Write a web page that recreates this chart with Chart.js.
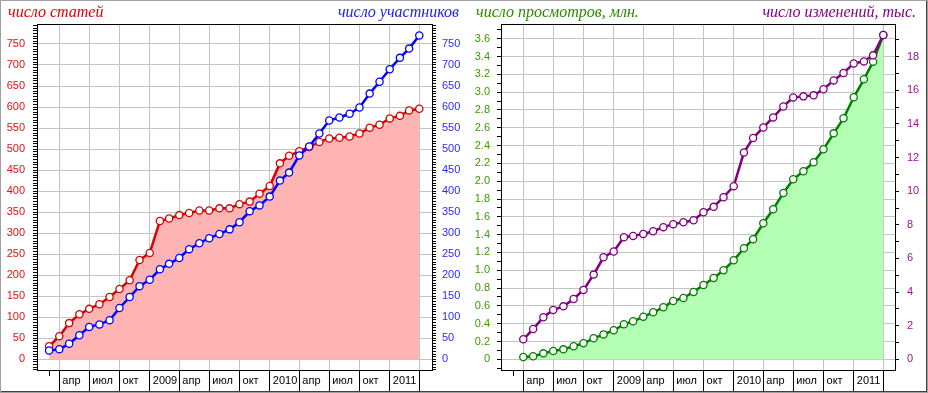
<!DOCTYPE html>
<html>
<head>
<meta charset="utf-8">
<script src="https://cdn.jsdelivr.net/npm/chart.js@4.4.1/dist/chart.umd.min.js"></script>
<style>
    html, body { margin: 0; padding: 0; background: #fff; }
    #wrap { position: relative; width: 928px; height: 393px; overflow: hidden; }
    #wrap canvas { position: absolute; top: 0; }
    #left { left: 0; }
    #right { left: 464px; }
    #frame { position: absolute; left: 0; top: 0; width: 928px; height: 393px; box-sizing: border-box;
             border: 1px solid #a0a0a0; box-shadow: inset -1px -1px 0 #404040; pointer-events: none; }
</style>
</head>
<body>
<div id="wrap">
    <canvas id="left" width="464" height="393"></canvas>
    <canvas id="right" width="464" height="393"></canvas>
    <div id="frame"></div>
</div>
<script>
// monthly values, first day of each month
const months = [
    '2008-03', '2008-04', '2008-05', '2008-06', '2008-07', '2008-08', '2008-09', '2008-10', '2008-11', '2008-12',
    '2009-01', '2009-02', '2009-03', '2009-04', '2009-05', '2009-06', '2009-07', '2009-08', '2009-09', '2009-10', '2009-11', '2009-12',
    '2010-01', '2010-02', '2010-03', '2010-04', '2010-05', '2010-06', '2010-07', '2010-08', '2010-09', '2010-10', '2010-11', '2010-12',
    '2011-01', '2011-02', '2011-03', '2011-04'
];
// число статей (from 2008-03)
const articles = [31, 55, 86, 107, 120, 131, 148, 167, 188, 236,
    253, 329, 335, 343, 348, 354, 354, 359, 359, 369, 375, 394,
    412, 466, 484, 495, 505, 517, 525, 527, 530, 537, 551, 558,
    573, 579, 592, 596];
// число участников (from 2008-03)
const participants = [21, 24, 37, 57, 77, 83, 93, 122, 148, 174,
    189, 214, 227, 241, 262, 276, 288, 298, 309, 326, 352, 366,
    387, 425, 444, 485, 506, 537, 568, 575, 584, 599, 632, 660,
    690, 717, 739, 770];
// right chart starts one month later (2008-04)
const rightMonths = months.slice(1);
// число просмотров, млн.
const views = [0.026, 0.034, 0.067, 0.094, 0.112, 0.146, 0.18, 0.236, 0.28,
    0.326, 0.393, 0.427, 0.479, 0.528, 0.584, 0.655, 0.689, 0.757, 0.835, 0.914, 1.0,
    1.112, 1.247, 1.348, 1.528, 1.685, 1.868, 2.021, 2.111, 2.212, 2.358, 2.537, 2.706,
    2.942, 3.144, 3.342, 3.642];
// число изменений, тыс.
const edits = [1.19, 1.8, 2.5, 2.94, 3.15, 3.59, 4.13, 5.04, 6.07,
    6.41, 7.26, 7.34, 7.46, 7.62, 7.86, 8.04, 8.15, 8.27, 8.75, 9.07, 9.64,
    10.3, 12.3, 13.16, 13.79, 14.39, 15.04, 15.58, 15.64, 15.7, 16.06, 16.59, 17.03,
    17.6, 17.72, 18.08, 19.29];

// x axis: quarter boundaries with labels, short ticks before the first one
const tickMonths = ['2008-04', '2008-07', '2008-10', '2009-01', '2009-04', '2009-07', '2009-10',
    '2010-01', '2010-04', '2010-07', '2010-10', '2011-01', '2011-04'];
const tickLabels = ['апр', 'июл', 'окт', '2009', 'апр', 'июл', 'окт', '2010', 'апр', 'июл', 'окт', '2011', ''];
const minorTickMonths = ['2008-02', '2008-03'];

const tickFont = { family: '"Liberation Sans", Arial, sans-serif', size: 11 };

// days since 2008-01-01
function dayOf(m) {
    const [y, mo] = m.split('-').map(Number);
    return (Date.UTC(y, mo - 1, 1) - Date.UTC(2008, 0, 1)) / 86400000;
}

function points(ms, values) {
    return ms.map((m, i) => ({ x: dayOf(m), y: values[i] }));
}

function isMajor(v, major) {
    const r = v / major;
    return Math.abs(r - Math.round(r)) < 1e-6;
}

function xAxis(min, max) {
    return {
        type: 'linear', position: 'bottom', min: min, max: max,
        afterBuildTicks: s => { s.ticks = tickMonths.map(m => ({ value: dayOf(m) })); },
        afterFit: s => { s.height = 23; },
        grid: { color: '#c4c4c4', tickColor: '#000', tickLength: 21 },
        border: { color: '#000' },
        ticks: {
            autoSkip: false, maxRotation: 0, minRotation: 0, align: 'start', padding: -17,
            color: '#000', font: tickFont,
            callback: (v, i) => ' ' + tickLabels[i]
        }
    };
}

function yAxis(position, min, max, step, major, color, fmt, width, padding, grid) {
    return {
        type: 'linear', position: position, min: min, max: max,
        afterFit: s => { s.width = width; },
        grid: {
            drawOnChartArea: grid,
            color: ctx => isMajor(ctx.tick.value, major) ? '#c4c4c4' : 'rgba(0,0,0,0)',
            tickColor: '#000', tickLength: 4
        },
        border: { color: '#000' },
        ticks: {
            stepSize: step, includeBounds: false, autoSkip: false, padding: padding,
            color: color, font: tickFont,
            callback: v => isMajor(v, major) ? fmt(v) : ''
        }
    };
}

// frame around the plot, minor month ticks and the two axis captions
const decoPlugin = {
    id: 'deco',
    afterDraw(chart, args, opts) {
        const ctx = chart.ctx;
        const a = chart.chartArea;
        const xs = chart.scales.x;
        ctx.save();
        ctx.strokeStyle = '#000';
        ctx.lineWidth = 1;
        ctx.strokeRect(Math.round(a.left) + 0.5, Math.round(a.top) + 0.5,
            Math.round(a.right - a.left), Math.round(a.bottom - a.top));
        minorTickMonths.forEach(m => {
            const px = xs.getPixelForValue(dayOf(m));
            if (px > a.left + 3) {
                ctx.beginPath();
                ctx.moveTo(Math.round(px) + 0.5, a.bottom);
                ctx.lineTo(Math.round(px) + 0.5, a.bottom + 6);
                ctx.stroke();
            }
        });
        ctx.font = 'italic 16px "Liberation Serif", "Times New Roman", serif';
        ctx.textBaseline = 'alphabetic';
        ctx.textAlign = 'left';
        ctx.fillStyle = opts.leftColor;
        ctx.fillText(opts.leftText, opts.leftX, 17);
        ctx.textAlign = 'right';
        ctx.fillStyle = opts.rightColor;
        ctx.fillText(opts.rightText, opts.rightX, 17);
        ctx.restore();
    }
};

function lineSet(data, color, fillColor) {
    return {
        data: data,
        borderColor: color,
        borderWidth: 2.5,
        backgroundColor: fillColor || 'rgba(0,0,0,0)',
        fill: fillColor ? 'origin' : false,
        tension: 0,
        pointRadius: 3.6,
        pointBorderWidth: 1.3,
        pointBackgroundColor: '#fff',
        pointBorderColor: color
    };
}

const commonOptions = {
    responsive: false,
    animation: false,
    layout: { padding: { top: 24, left: 0, right: 0, bottom: 0 } },
    plugins: { legend: { display: false }, tooltip: { enabled: false } }
};

const red = '#e81010', blue = '#2a2aff', green = '#3a9a00', purple = '#9a109a';

// left chart: articles and participants
new Chart(document.getElementById('left').getContext('2d'), {
    type: 'line',
    data: {
        datasets: [
            lineSet(points(months, participants), '#0000ff'),
            lineSet(points(months, articles), '#d80000', '#ffb4b4')
        ]
    },
    options: Object.assign({}, commonOptions, {
        plugins: Object.assign({}, commonOptions.plugins, {
            deco: { leftText: 'число статей', leftColor: '#e00000', leftX: 8,
                    rightText: 'число участников', rightColor: '#2020ee', rightX: 459 }
        }),
        scales: {
            x: xAxis(23.17, 1224.6),
            y: yAxis('left', -25.5, 797.5, 6.25, 50, red, v => String(v), 37, 8, true),
            y2: yAxis('right', -25.5, 797.5, 6.25, 50, blue, v => String(v), 32, 6, false)
        }
    }),
    plugins: [decoPlugin]
});

// right chart: views and edits
new Chart(document.getElementById('right').getContext('2d'), {
    type: 'line',
    data: {
        datasets: [
            Object.assign(lineSet(points(rightMonths, edits), '#800080'), { yAxisID: 'y2' }),
            lineSet(points(rightMonths, views), '#008000', '#b4ffb4')
        ]
    },
    options: Object.assign({}, commonOptions, {
        plugins: Object.assign({}, commonOptions.plugins, {
            deco: { leftText: 'число просмотров, млн.', leftColor: '#2e8a00', leftX: 12,
                    rightText: 'число изменений, тыс.', rightColor: '#880088', rightX: 452 }
        }),
        scales: {
            x: xAxis(23.17, 1221.6),
            y: yAxis('left', -0.12, 3.765, 0.1, 0.2, green, v => v === 0 ? '0' : v.toFixed(1), 37, 7, true),
            y2: yAxis('right', -0.636, 19.945, 1, 2, purple, v => String(v), 33, 8, false)
        }
    }),
    plugins: [decoPlugin]
});
</script>
</body>
</html>
